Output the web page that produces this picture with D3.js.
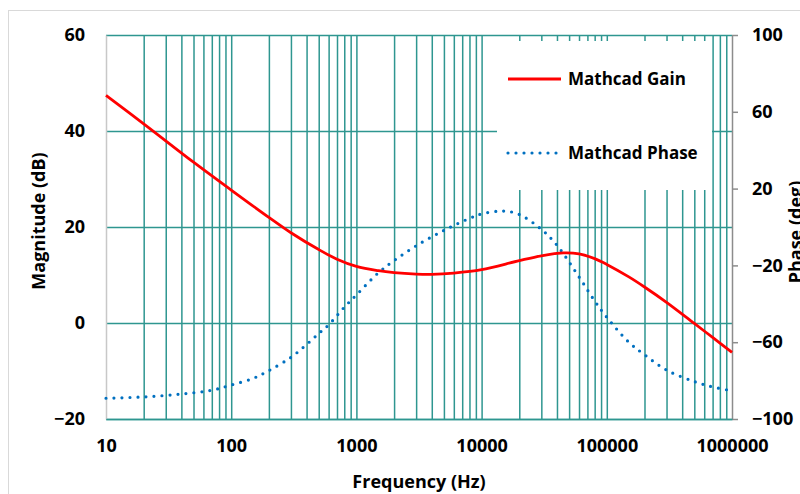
<!DOCTYPE html>
<html>
<head>
<meta charset="utf-8">
<script src="https://cdn.jsdelivr.net/npm/d3@7"></script>
<style>
  html, body { margin: 0; padding: 0; background: #fff; }
  svg text { font-family: "Open Sans", "Noto Sans", sans-serif; font-weight: 700; fill: #000; }
</style>
</head>
<body>
<div id="chart"></div>
<script>
// Data
const gainFreq = [10, 20, 50, 100, 200, 300, 500, 700, 1000, 1500, 2000, 3000, 4000, 6000, 10000, 20000, 30000, 45000, 60000, 80000, 100000, 150000, 200000, 300000, 500000, 700000, 1000000];
const gainDb = [47.4, 41.5, 33.5, 27.7, 22.0, 18.8, 15.3, 13.3, 11.8, 10.9, 10.5, 10.2, 10.15, 10.4, 11.1, 13.0, 14.0, 14.6, 14.4, 13.4, 12.2, 9.6, 7.5, 4.3, -0.1, -3.0, -6.1];

const phaseFreq = [10, 20, 40, 70, 100, 150, 200, 300, 400, 500, 600, 800, 1000, 1500, 2000, 3000, 5000, 8000, 10000, 15000, 20000, 30000, 40000, 60000, 80000, 100000, 150000, 200000, 300000, 500000, 700000, 1000000];
const phaseDeg = [-89.2, -88.5, -87.0, -85.0, -82.3, -78.8, -74.8, -67.9, -61.2, -55.5, -51.0, -41.8, -35.4, -23.8, -17.5, -9.8, -1.8, 4.5, 6.8, 8.3, 6.5, -1.2, -9.5, -26.0, -38.5, -47.0, -60.0, -66.5, -74.5, -80.5, -83.3, -85.3];

const xTicks = [10, 100, 1000, 10000, 100000, 1000000];
const gainTicks = [60, 40, 20, 0, -20];
const phaseTicks = [100, 60, 20, -20, -60, -100];

const seriesNames = ["Mathcad Gain", "Mathcad Phase"];

function createBodePlot(containerId, options = {}) {
  const defaults = {
    width: 800,
    height: 494,
    margin: { top: 35, right: 68, bottom: 75, left: 106 },
    gridColor: "#2e9690",
    gainColor: "#ff0000",
    phaseColor: "#0070c0",
  };
  const config = { ...defaults, ...options };

  d3.select(containerId).selectAll("*").remove();

  const svg = d3
    .select(containerId)
    .append("svg")
    .attr("width", config.width)
    .attr("height", config.height);

  const width = config.width - config.margin.left - config.margin.right;
  const height = config.height - config.margin.top - config.margin.bottom;

  // outer chart frame
  svg
    .append("rect")
    .attr("x", 8.5)
    .attr("y", 10.5)
    .attr("width", config.width + 20)
    .attr("height", config.height + 20)
    .attr("fill", "#fff")
    .attr("stroke", "#d9d9d9");

  const g = svg
    .append("g")
    .attr("transform", `translate(${config.margin.left},${config.margin.top})`);

  // Scales
  const x = d3.scaleLog().domain([10, 1e6]).range([0, width]);
  const y = d3.scaleLinear().domain([-20, 60]).range([height, 0]);
  const yPhase = d3.scaleLinear().domain([-100, 100]).range([height, 0]);

  // Vertical grid (every 1..9 x decade)
  const minorTicks = x.ticks().filter((d) => d > 10 && d < 1e6);
  g.append("g")
    .attr("class", "grid-x")
    .call(d3.axisBottom(x).tickValues(minorTicks).tickSize(height).tickFormat(""))
    .call((s) => s.select(".domain").remove())
    .selectAll("line")
    .attr("stroke", config.gridColor)
    .attr("stroke-width", 1.5);

  // Horizontal grid
  g.append("g")
    .attr("class", "grid-y")
    .call(d3.axisLeft(y).tickValues(gainTicks).tickSize(-width).tickFormat(""))
    .call((s) => s.select(".domain").remove())
    .selectAll("line")
    .attr("stroke", config.gridColor)
    .attr("stroke-width", 1.5);

  // Legend box (white, hides grid behind)
  const legend = g.append("g").attr("transform", `translate(${497 - config.margin.left},${41 - config.margin.top})`);
  legend.append("rect").attr("width", 215).attr("height", 149).attr("fill", "#fff");

  // Left axis
  const yAxis = g.append("g").call(d3.axisLeft(y).tickValues(gainTicks).tickSize(0).tickPadding(21));
  yAxis.select(".domain").attr("stroke", "#c8c8c8").attr("stroke-width", 1.5);
  yAxis.selectAll("text").style("font-size", "18px");

  // Right axis
  const yAxisR = g
    .append("g")
    .attr("transform", `translate(${width},0)`)
    .call(d3.axisRight(yPhase).tickValues(phaseTicks).tickSize(6).tickSizeOuter(0).tickPadding(14));
  yAxisR.select(".domain").attr("stroke", "#8c8c8c").attr("stroke-width", 1.5);
  yAxisR.selectAll("line").attr("stroke", "#8c8c8c").attr("stroke-width", 1.5);
  yAxisR.selectAll("text").style("font-size", "18px");

  // Bottom axis
  const xAxis = g
    .append("g")
    .attr("transform", `translate(0,${height})`)
    .call(d3.axisBottom(x).tickValues(xTicks).tickSize(0).tickPadding(20).tickFormat(d3.format("d")));
  xAxis.select(".domain").attr("stroke", config.gridColor).attr("stroke-width", 1.5);
  xAxis.selectAll("text").style("font-size", "18px");

  // Curves
  const gainData = gainFreq.map((f, i) => ({ f, v: gainDb[i] }));
  const phaseData = phaseFreq.map((f, i) => ({ f, v: phaseDeg[i] }));

  const gainLine = d3
    .line()
    .x((d) => x(d.f))
    .y((d) => y(d.v))
    .curve(d3.curveCatmullRom);

  const phaseLine = d3
    .line()
    .x((d) => x(d.f))
    .y((d) => yPhase(d.v))
    .curve(d3.curveCatmullRom);

  g.append("path")
    .datum(phaseData)
    .attr("d", phaseLine)
    .attr("fill", "none")
    .attr("stroke", config.phaseColor)
    .attr("stroke-width", 3.2)
    .attr("stroke-linecap", "round")
    .attr("stroke-dasharray", "0 8");

  g.append("path")
    .datum(gainData)
    .attr("d", gainLine)
    .attr("fill", "none")
    .attr("stroke", config.gainColor)
    .attr("stroke-width", 2.8);

  // Legend entries
  const entries = [
    { name: seriesNames[0], color: config.gainColor, dash: null, y: 38 },
    { name: seriesNames[1], color: config.phaseColor, dash: "0 8", y: 112 },
  ];
  entries.forEach((e) => {
    legend
      .append("line")
      .attr("x1", 11)
      .attr("x2", 64)
      .attr("y1", e.y)
      .attr("y2", e.y)
      .attr("stroke", e.color)
      .attr("stroke-width", e.dash ? 3.2 : 2.8)
      .attr("stroke-linecap", e.dash ? "round" : "butt")
      .attr("stroke-dasharray", e.dash);
    legend
      .append("text")
      .attr("x", 71)
      .attr("y", e.y)
      .attr("dy", "0.35em")
      .style("font-size", "17px")
      .text(e.name);
  });

  // Axis titles
  svg
    .append("text")
    .attr("transform", `translate(${config.margin.left + width / 2}, 488)`)
    .style("text-anchor", "middle")
    .style("font-size", "18px")
    .text("Frequency (Hz)");

  svg
    .append("text")
    .attr("transform", "translate(45, 221) rotate(-90)")
    .style("text-anchor", "middle")
    .style("font-size", "18px")
    .text("Magnitude (dB)");

  // clipped at the right edge, as in the reference
  svg
    .append("text")
    .attr("transform", "translate(802, 232) rotate(-90)")
    .style("text-anchor", "middle")
    .style("font-size", "18px")
    .text("Phase (deg)");

  return { svg, g, x, y, yPhase };
}

createBodePlot("#chart");
</script>
</body>
</html>
